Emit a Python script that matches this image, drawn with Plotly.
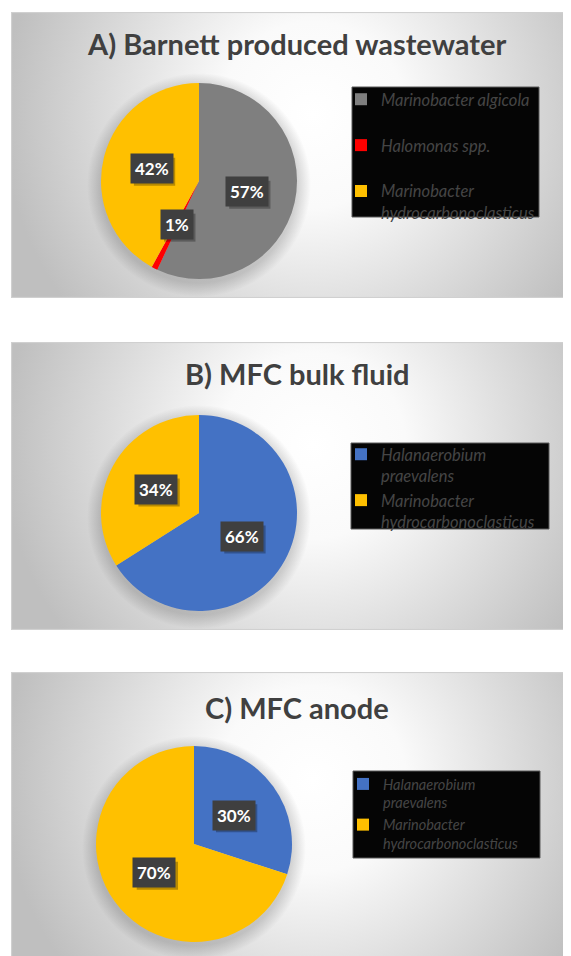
import base64
import math
import plotly.graph_objects as go

# ---------------- data ----------------
titles = ["A) Barnett produced wastewater", "B) MFC bulk fluid", "C) MFC anode"]

labels_a = ["Marinobacter algicola", "Halomonas spp.", "Marinobacter hydrocarbonoclasticus"]
values_a = [57, 1, 42]
colors_a = ["#7f7f7f", "#ff0000", "#ffc000"]

labels_b = ["Halanaerobium praevalens", "Marinobacter hydrocarbonoclasticus"]
values_b = [66, 34]
colors_b = ["#4472c4", "#ffc000"]

labels_c = ["Halanaerobium praevalens", "Marinobacter hydrocarbonoclasticus"]
values_c = [30, 70]
colors_c = ["#4472c4", "#ffc000"]

# ---------------- layout constants (page pixels) ----------------
PAGE_W, PAGE_H = 571, 956
BODY = 8  # default page margin of the html body
W, H = PAGE_W - BODY, PAGE_H - BODY
LABEL_FONT = 17

panels = [
    dict(x0=11, y0=12, y1=298, cx=199, cy=181, R=98, tx=296, ty=43,
         leg=(352, 87, 539, 217), legx=341, legy=82, legfont=16.5, pad_single=True),
    dict(x0=11, y0=342, y1=630, cx=199, cy=513, R=98, tx=297, ty=373,
         leg=(351, 443, 549, 529), legx=341, legy=437, legfont=16.5, pad_single=False),
    dict(x0=11, y0=672, y1=970, cx=194, cy=844, R=98, tx=297, ty=707,
         leg=(353, 771, 540, 858), legx=343, legy=768, legfont=14.5, pad_single=False),
]
datasets = [(labels_a, values_a, colors_a), (labels_b, values_b, colors_b), (labels_c, values_c, colors_c)]


def px(x):
    return (x - BODY) / W


def py(y):
    return 1 - (y - BODY) / H


def panel_svg(w, h, cx, cy, R):
    svg = f'''<svg xmlns="http://www.w3.org/2000/svg" width="{w}" height="{h}" viewBox="0 0 {w} {h}">
<defs>
<radialGradient id="bg" gradientUnits="userSpaceOnUse" cx="{w*0.52:.1f}" cy="{h*0.36:.1f}" r="310">
<stop offset="0" stop-color="#ffffff"/>
<stop offset="0.3" stop-color="#fafafa"/>
<stop offset="1" stop-color="#bfbfbf"/>
</radialGradient>
<radialGradient id="sh" gradientUnits="userSpaceOnUse" cx="{cx}" cy="{cy+4}" r="{R+14}">
<stop offset="0" stop-color="#000" stop-opacity="0.22"/>
<stop offset="{R/(R+14):.3f}" stop-color="#000" stop-opacity="0.16"/>
<stop offset="1" stop-color="#000" stop-opacity="0"/>
</radialGradient>
</defs>
<rect x="0" y="0" width="{w}" height="{h}" fill="url(#bg)"/>
<circle cx="{cx}" cy="{cy+4}" r="{R+14}" fill="url(#sh)"/>
<rect x="0.5" y="0.5" width="{w-1}" height="{h-1}" fill="none" stroke="#d0d0d0" stroke-width="1.2"/>
</svg>'''
    return "data:image/svg+xml;base64," + base64.b64encode(svg.encode()).decode()


def display_label(name, pad_single):
    parts = name.split(" ")
    if len(name) > 22:
        name = parts[0] + "<br>" + " ".join(parts[1:])
    elif pad_single:
        name = name + "<br>\u00a0"
    return name


fig = go.Figure()
annotations = []
shapes = []
legend_names = ["legend", "legend2", "legend3"]
layout_legends = {}

for i, (p, (labs, vals, cols)) in enumerate(zip(panels, datasets)):
    cx, cy, R = p["cx"], p["cy"], p["R"]
    pw, ph = PAGE_W + 20 - p["x0"], p["y1"] - p["y0"]
    fig.add_layout_image(
        source=panel_svg(pw, ph, cx - p["x0"], cy - p["y0"], R),
        xref="paper", yref="paper", x=px(p["x0"]), y=py(p["y0"]),
        sizex=pw / W, sizey=ph / H, xanchor="left", yanchor="top",
        sizing="stretch", layer="below",
    )
    fig.add_trace(go.Pie(
        labels=[display_label(l, p["pad_single"]) for l in labs],
        values=vals,
        marker=dict(colors=cols, line=dict(width=0)),
        sort=False, direction="clockwise", rotation=0,
        textinfo="none", hoverinfo="label+percent",
        domain=dict(x=[px(cx - R), px(cx + R)], y=[py(cy + R), py(cy - R)]),
        legend=legend_names[i], legendgroup=f"g{i}", showlegend=True,
    ))
    # title
    annotations.append(dict(
        text=titles[i], x=px(p["tx"]), y=py(p["ty"]), xref="paper", yref="paper",
        xanchor="center", yanchor="middle", showarrow=False,
        font=dict(family="Lato", size=29, color="#404040", weight="bold"),
    ))
    # percentage data labels at half radius of each slice
    total = sum(vals)
    cum = 0
    for v in vals:
        a = 2 * math.pi * (cum + v / 2) / total
        cum += v
        lx = cx + 0.5 * R * math.sin(a)
        ly = cy - 0.5 * R * math.cos(a)
        txt = f"{round(100 * v / total)}%"
        # soft drop shadow behind the label box
        hw = ((len(txt) - 1) * 0.58 * LABEL_FONT + 0.8 * LABEL_FONT) / 2 + 4
        hh = 14
        shapes.append(dict(
            type="rect", xref="paper", yref="paper",
            x0=px(lx - hw + 3), x1=px(lx + hw + 3), y0=py(ly + hh + 3), y1=py(ly - hh + 3),
            fillcolor="rgba(0,0,0,0.28)", line=dict(width=0), layer="above",
        ))
        annotations.append(dict(
            text=txt, x=px(lx), y=py(ly), xref="paper", yref="paper",
            xanchor="center", yanchor="middle", showarrow=False,
            bgcolor="#3f3f3f", borderpad=4,
            font=dict(family="Lato", size=LABEL_FONT, color="#ffffff", weight="bold"),
        ))
    # legend box
    lx0, ly0, lx1, ly1 = p["leg"]
    shapes.append(dict(
        type="rect", xref="paper", yref="paper",
        x0=px(lx0), x1=px(lx1), y0=py(ly1), y1=py(ly0),
        fillcolor="#050505", line=dict(color="#5a5a5a", width=1), layer="above",
    ))
    layout_legends[legend_names[i]] = dict(
        x=px(p["legx"]), y=py(p["legy"]), xanchor="left", yanchor="top",
        bgcolor="rgba(0,0,0,0)", borderwidth=0, valign="top",
        font=dict(family="Lato", size=p["legfont"], color="#454545", style="italic"),
        itemclick=False, itemdoubleclick=False,
    )

fig.update_layout(
    width=W, height=H,
    margin=dict(l=0, r=0, t=0, b=0),
    paper_bgcolor="#ffffff",
    annotations=annotations,
    shapes=shapes,
    **layout_legends,
)

fig.write_html("out.html")
